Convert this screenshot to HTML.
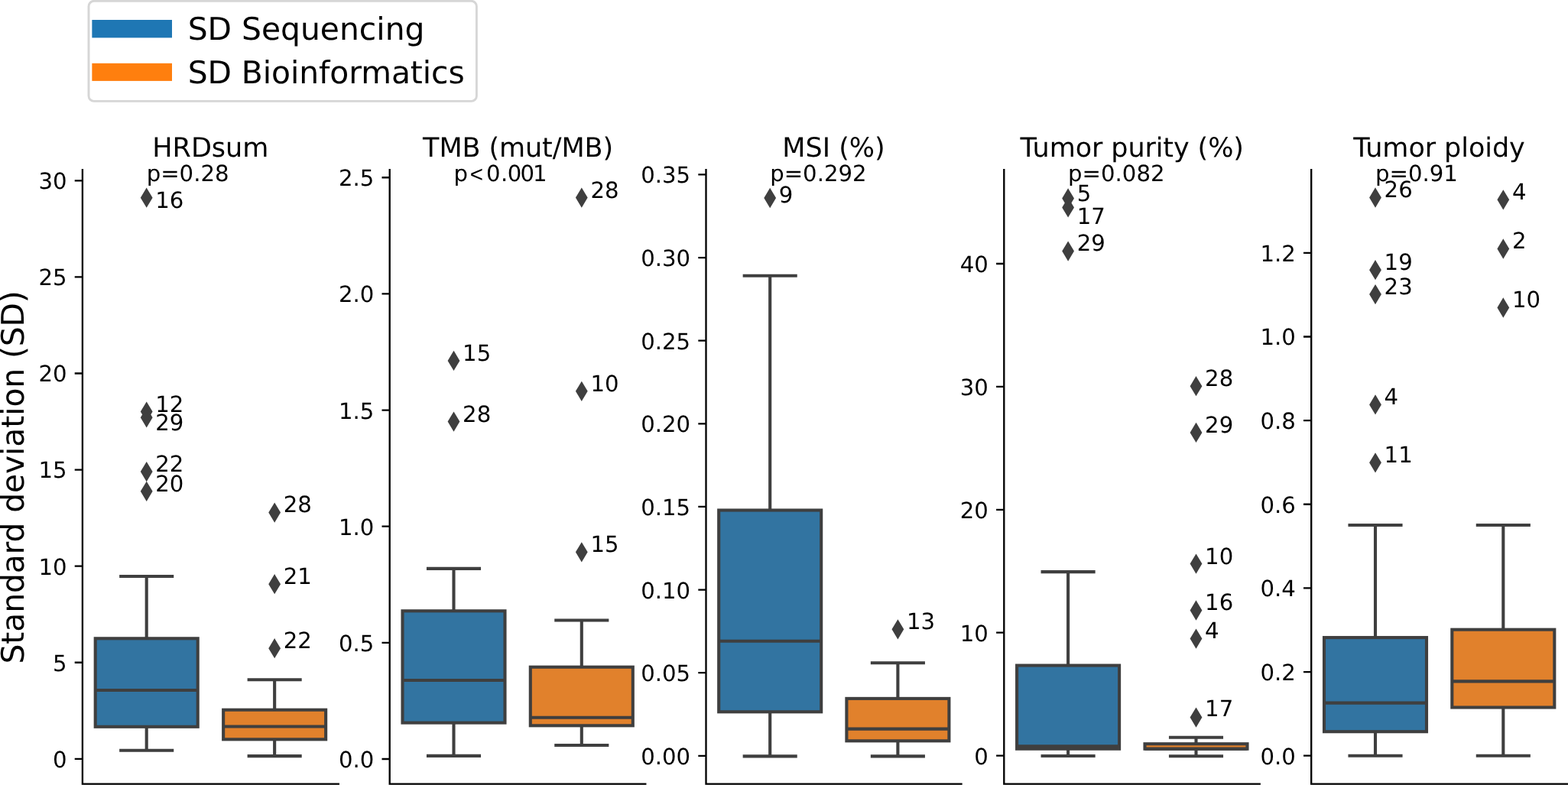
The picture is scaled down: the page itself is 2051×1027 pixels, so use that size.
<!DOCTYPE html>
<html><head><meta charset="utf-8"><title>Standard deviation boxplots</title>
<style>
html,body{margin:0;padding:0;background:#fff;}
body{width:2051px;height:1027px;overflow:hidden;}
svg{display:block;}
text{font-family:"DejaVu Sans","Liberation Sans",sans-serif;fill:#000;text-rendering:geometricPrecision;}
</style></head>
<body>
<svg width="2051" height="1027" viewBox="0 0 2051 1027">
<rect width="2051" height="1027" fill="#fff"/>
<rect x="116" y="1.3" width="507.4" height="131.1" rx="7" ry="7" fill="#ffffff" stroke="#d6d6d6" stroke-width="2.9"/>
<rect x="120.35" y="26.0" width="104.65" height="23.4" fill="#1f77b4"/>
<rect x="120.35" y="82.8" width="104.65" height="23.1" fill="#ff7f0e"/>
<text x="245.7" y="52" font-size="40.83">SD Sequencing</text>
<text x="245.7" y="109" font-size="40.83" textLength="362" lengthAdjust="spacing">SD Bioinformatics</text>
<text transform="translate(31.2 624.35) rotate(-90)" text-anchor="middle" font-size="40.83" textLength="488.3" lengthAdjust="spacing">Standard deviation (SD)</text>
<path d="M107.9 221.03V1025.7M106.73 1025.7H443.97" stroke="#000" stroke-width="2.33" fill="none"/>
<path d="M97.7 992.8H107.9M97.7 866.71H107.9M97.7 740.63H107.9M97.7 614.54H107.9M97.7 488.46H107.9M97.7 362.38H107.9M97.7 236.29H107.9" stroke="#000" stroke-width="2.33" fill="none"/>
<text x="87.5" y="1004" text-anchor="end" font-size="29.17">0</text>
<text x="87.5" y="878" text-anchor="end" font-size="29.17">5</text>
<text x="87.5" y="752" text-anchor="end" font-size="29.17">10</text>
<text x="87.5" y="625" text-anchor="end" font-size="29.17">15</text>
<text x="87.5" y="499" text-anchor="end" font-size="29.17">20</text>
<text x="87.5" y="373" text-anchor="end" font-size="29.17">25</text>
<text x="87.5" y="247" text-anchor="end" font-size="29.17">30</text>
<text x="275.35" y="205.4" text-anchor="middle" font-size="35.0">HRDsum</text>
<text x="191.7" y="237" font-size="29.17">p=0.28</text>
<path d="M191.7 950.8V981.8M191.7 835.3V754" stroke="#3f3f3f" stroke-width="4.1" fill="none"/>
<path d="M158.2 981.8H225.2M158.2 754H225.2" stroke="#3f3f3f" stroke-width="4.1" stroke-linecap="square" fill="none"/>
<rect x="124.7" y="835.3" width="134" height="115.5" fill="#3274a1" stroke="#3f3f3f" stroke-width="4.1"/>
<path d="M124.7 903H258.7" stroke="#3f3f3f" stroke-width="4.1" fill="none"/>
<path d="M191.7 248.39L197.89 258.7L191.7 269.01L185.51 258.7Z" fill="#3f3f3f" stroke="#3f3f3f" stroke-width="2.92"/>
<text x="203.3" y="272" font-size="29.17">16</text>
<path d="M191.7 528.29L197.89 538.6L191.7 548.91L185.51 538.6Z" fill="#3f3f3f" stroke="#3f3f3f" stroke-width="2.92"/>
<text x="203.3" y="539" font-size="29.17">12</text>
<path d="M191.7 535.99L197.89 546.3L191.7 556.61L185.51 546.3Z" fill="#3f3f3f" stroke="#3f3f3f" stroke-width="2.92"/>
<text x="203.3" y="563" font-size="29.17">29</text>
<path d="M191.7 606.79L197.89 617.1L191.7 627.41L185.51 617.1Z" fill="#3f3f3f" stroke="#3f3f3f" stroke-width="2.92"/>
<text x="203.3" y="617" font-size="29.17">22</text>
<path d="M191.7 632.49L197.89 642.8L191.7 653.11L185.51 642.8Z" fill="#3f3f3f" stroke="#3f3f3f" stroke-width="2.92"/>
<text x="203.3" y="643" font-size="29.17">20</text>
<path d="M359.15 967.3V989.1M359.15 928.7V889.3" stroke="#3f3f3f" stroke-width="4.1" fill="none"/>
<path d="M325.65 989.1H392.65M325.65 889.3H392.65" stroke="#3f3f3f" stroke-width="4.1" stroke-linecap="square" fill="none"/>
<rect x="292.15" y="928.7" width="134" height="38.6" fill="#e1812c" stroke="#3f3f3f" stroke-width="4.1"/>
<path d="M292.15 950.5H426.15" stroke="#3f3f3f" stroke-width="4.1" fill="none"/>
<path d="M359.15 660.29L365.34 670.6L359.15 680.91L352.96 670.6Z" fill="#3f3f3f" stroke="#3f3f3f" stroke-width="2.92"/>
<text x="370.75" y="670" font-size="29.17">28</text>
<path d="M359.15 753.89L365.34 764.2L359.15 774.51L352.96 764.2Z" fill="#3f3f3f" stroke="#3f3f3f" stroke-width="2.92"/>
<text x="370.75" y="764" font-size="29.17">21</text>
<path d="M359.15 837.89L365.34 848.2L359.15 858.51L352.96 848.2Z" fill="#3f3f3f" stroke="#3f3f3f" stroke-width="2.92"/>
<text x="370.75" y="848" font-size="29.17">22</text>
<path d="M509.7 221.03V1025.7M508.53 1025.7H845.46" stroke="#000" stroke-width="2.33" fill="none"/>
<path d="M499.5 993H509.7M499.5 840.85H509.7M499.5 688.7H509.7M499.5 536.55H509.7M499.5 384.4H509.7M499.5 232.25H509.7" stroke="#000" stroke-width="2.33" fill="none"/>
<text x="489.3" y="1004" text-anchor="end" font-size="29.17">0.0</text>
<text x="489.3" y="852" text-anchor="end" font-size="29.17">0.5</text>
<text x="489.3" y="700" text-anchor="end" font-size="29.17">1.0</text>
<text x="489.3" y="548" text-anchor="end" font-size="29.17">1.5</text>
<text x="489.3" y="395" text-anchor="end" font-size="29.17">2.0</text>
<text x="489.3" y="243" text-anchor="end" font-size="29.17">2.5</text>
<text x="677.6" y="205.4" text-anchor="middle" font-size="35.0" textLength="248.99" lengthAdjust="spacing">TMB (mut/MB)</text>
<text x="593.5" y="237" font-size="29.17">p<tspan x="614.8" y="237.8" font-family="Liberation Sans" font-size="29.6">&lt;</tspan><tspan x="636 654.9 663.7 680.5 696.9" y="237">0.001</tspan></text>
<path d="M593.5 945.6V988.9M593.5 799.3V743.9" stroke="#3f3f3f" stroke-width="4.1" fill="none"/>
<path d="M560 988.9H627M560 743.9H627" stroke="#3f3f3f" stroke-width="4.1" stroke-linecap="square" fill="none"/>
<rect x="526.5" y="799.3" width="134" height="146.3" fill="#3274a1" stroke="#3f3f3f" stroke-width="4.1"/>
<path d="M526.5 890H660.5" stroke="#3f3f3f" stroke-width="4.1" fill="none"/>
<path d="M593.5 461.59L599.69 471.9L593.5 482.21L587.31 471.9Z" fill="#3f3f3f" stroke="#3f3f3f" stroke-width="2.92"/>
<text x="605.1" y="472" font-size="29.17">15</text>
<path d="M593.5 541.29L599.69 551.6L593.5 561.91L587.31 551.6Z" fill="#3f3f3f" stroke="#3f3f3f" stroke-width="2.92"/>
<text x="605.1" y="552" font-size="29.17">28</text>
<path d="M760.8 949.3V975M760.8 872.7V811.5" stroke="#3f3f3f" stroke-width="4.1" fill="none"/>
<path d="M727.3 975H794.3M727.3 811.5H794.3" stroke="#3f3f3f" stroke-width="4.1" stroke-linecap="square" fill="none"/>
<rect x="693.8" y="872.7" width="134" height="76.6" fill="#e1812c" stroke="#3f3f3f" stroke-width="4.1"/>
<path d="M693.8 938.8H827.8" stroke="#3f3f3f" stroke-width="4.1" fill="none"/>
<path d="M760.8 248.29L766.99 258.6L760.8 268.91L754.61 258.6Z" fill="#3f3f3f" stroke="#3f3f3f" stroke-width="2.92"/>
<text x="772.4" y="259" font-size="29.17">28</text>
<path d="M760.8 501.49L766.99 511.8L760.8 522.11L754.61 511.8Z" fill="#3f3f3f" stroke="#3f3f3f" stroke-width="2.92"/>
<text x="772.4" y="512" font-size="29.17">10</text>
<path d="M760.8 711.99L766.99 722.3L760.8 732.61L754.61 722.3Z" fill="#3f3f3f" stroke="#3f3f3f" stroke-width="2.92"/>
<text x="772.4" y="722" font-size="29.17">15</text>
<path d="M923.5 221.03V1025.7M922.34 1025.7H1258.66" stroke="#000" stroke-width="2.33" fill="none"/>
<path d="M913.3 988.8H923.5M913.3 880.17H923.5M913.3 771.55H923.5M913.3 662.92H923.5M913.3 554.3H923.5M913.3 445.67H923.5M913.3 337.05H923.5M913.3 228.42H923.5" stroke="#000" stroke-width="2.33" fill="none"/>
<text x="903.1" y="1000" text-anchor="end" font-size="29.17">0.00</text>
<text x="903.1" y="891" text-anchor="end" font-size="29.17">0.05</text>
<text x="903.1" y="783" text-anchor="end" font-size="29.17">0.10</text>
<text x="903.1" y="674" text-anchor="end" font-size="29.17">0.15</text>
<text x="903.1" y="565" text-anchor="end" font-size="29.17">0.20</text>
<text x="903.1" y="457" text-anchor="end" font-size="29.17">0.25</text>
<text x="903.1" y="348" text-anchor="end" font-size="29.17">0.30</text>
<text x="903.1" y="239" text-anchor="end" font-size="29.17">0.35</text>
<text x="1090.5" y="205.4" text-anchor="middle" font-size="35.0">MSI (%)</text>
<text x="1007.2" y="237" font-size="29.17">p=0.292</text>
<path d="M1007.2 931.3V989.4M1007.2 667.5V360.7" stroke="#3f3f3f" stroke-width="4.1" fill="none"/>
<path d="M973.7 989.4H1040.7M973.7 360.7H1040.7" stroke="#3f3f3f" stroke-width="4.1" stroke-linecap="square" fill="none"/>
<rect x="940.2" y="667.5" width="134" height="263.8" fill="#3274a1" stroke="#3f3f3f" stroke-width="4.1"/>
<path d="M940.2 838.7H1074.2" stroke="#3f3f3f" stroke-width="4.1" fill="none"/>
<path d="M1007.2 248.69L1013.39 259L1007.2 269.31L1001.01 259Z" fill="#3f3f3f" stroke="#3f3f3f" stroke-width="2.92"/>
<text x="1018.8" y="265" font-size="29.17">9</text>
<path d="M1174.4 969.3V989.4M1174.4 913.9V867.3" stroke="#3f3f3f" stroke-width="4.1" fill="none"/>
<path d="M1140.9 989.4H1207.9M1140.9 867.3H1207.9" stroke="#3f3f3f" stroke-width="4.1" stroke-linecap="square" fill="none"/>
<rect x="1107.4" y="913.9" width="134" height="55.4" fill="#e1812c" stroke="#3f3f3f" stroke-width="4.1"/>
<path d="M1107.4 953.6H1241.4" stroke="#3f3f3f" stroke-width="4.1" fill="none"/>
<path d="M1174.4 812.99L1180.59 823.3L1174.4 833.61L1168.21 823.3Z" fill="#3f3f3f" stroke="#3f3f3f" stroke-width="2.92"/>
<text x="1186" y="823" font-size="29.17">13</text>
<path d="M1313.3 221.03V1025.7M1312.13 1025.7H1648.87" stroke="#000" stroke-width="2.33" fill="none"/>
<path d="M1303.1 988.6H1313.3M1303.1 827.7H1313.3M1303.1 666.8H1313.3M1303.1 505.9H1313.3M1303.1 345H1313.3" stroke="#000" stroke-width="2.33" fill="none"/>
<text x="1292.9" y="1000" text-anchor="end" font-size="29.17">0</text>
<text x="1292.9" y="839" text-anchor="end" font-size="29.17">10</text>
<text x="1292.9" y="678" text-anchor="end" font-size="29.17">20</text>
<text x="1292.9" y="517" text-anchor="end" font-size="29.17">30</text>
<text x="1292.9" y="356" text-anchor="end" font-size="29.17">40</text>
<text x="1480.8" y="205.4" text-anchor="middle" font-size="35.0" textLength="292.36" lengthAdjust="spacing">Tumor purity (%)</text>
<text x="1397.1" y="237" font-size="29.17">p=0.082</text>
<path d="M1397.1 979.7V989M1397.1 870.6V748.1" stroke="#3f3f3f" stroke-width="4.1" fill="none"/>
<path d="M1363.6 989H1430.6M1363.6 748.1H1430.6" stroke="#3f3f3f" stroke-width="4.1" stroke-linecap="square" fill="none"/>
<rect x="1330.1" y="870.6" width="134" height="109.1" fill="#3274a1" stroke="#3f3f3f" stroke-width="4.1"/>
<path d="M1330.1 976.2H1464.1" stroke="#3f3f3f" stroke-width="4.1" fill="none"/>
<path d="M1397.1 249.19L1403.29 259.5L1397.1 269.81L1390.91 259.5Z" fill="#3f3f3f" stroke="#3f3f3f" stroke-width="2.92"/>
<text x="1408.7" y="263" font-size="29.17">5</text>
<path d="M1397.1 261.09L1403.29 271.4L1397.1 281.71L1390.91 271.4Z" fill="#3f3f3f" stroke="#3f3f3f" stroke-width="2.92"/>
<text x="1408.7" y="293" font-size="29.17">17</text>
<path d="M1397.1 318.29L1403.29 328.6L1397.1 338.91L1390.91 328.6Z" fill="#3f3f3f" stroke="#3f3f3f" stroke-width="2.92"/>
<text x="1408.7" y="328" font-size="29.17">29</text>
<path d="M1564.5 979.7V989.2M1564.5 973.2V964.7" stroke="#3f3f3f" stroke-width="4.1" fill="none"/>
<path d="M1531 989.2H1598M1531 964.7H1598" stroke="#3f3f3f" stroke-width="4.1" stroke-linecap="square" fill="none"/>
<rect x="1497.5" y="973.2" width="134" height="6.5" fill="#e1812c" stroke="#3f3f3f" stroke-width="4.1"/>
<path d="M1497.5 979.7H1631.5" stroke="#3f3f3f" stroke-width="4.1" fill="none"/>
<path d="M1564.5 494.89L1570.69 505.2L1564.5 515.51L1558.31 505.2Z" fill="#3f3f3f" stroke="#3f3f3f" stroke-width="2.92"/>
<text x="1576.1" y="505" font-size="29.17">28</text>
<path d="M1564.5 555.59L1570.69 565.9L1564.5 576.21L1558.31 565.9Z" fill="#3f3f3f" stroke="#3f3f3f" stroke-width="2.92"/>
<text x="1576.1" y="566" font-size="29.17">29</text>
<path d="M1564.5 727.29L1570.69 737.6L1564.5 747.91L1558.31 737.6Z" fill="#3f3f3f" stroke="#3f3f3f" stroke-width="2.92"/>
<text x="1576.1" y="738" font-size="29.17">10</text>
<path d="M1564.5 788.19L1570.69 798.5L1564.5 808.81L1558.31 798.5Z" fill="#3f3f3f" stroke="#3f3f3f" stroke-width="2.92"/>
<text x="1576.1" y="798" font-size="29.17">16</text>
<path d="M1564.5 825.29L1570.69 835.6L1564.5 845.91L1558.31 835.6Z" fill="#3f3f3f" stroke="#3f3f3f" stroke-width="2.92"/>
<text x="1576.1" y="835" font-size="29.17">4</text>
<path d="M1564.5 928.29L1570.69 938.6L1564.5 948.91L1558.31 938.6Z" fill="#3f3f3f" stroke="#3f3f3f" stroke-width="2.92"/>
<text x="1576.1" y="937" font-size="29.17">17</text>
<path d="M1715.2 221.03V1025.7M1714.04 1025.7H2050.97" stroke="#000" stroke-width="2.33" fill="none"/>
<path d="M1705 988.7H1715.2M1705 879.06H1715.2M1705 769.42H1715.2M1705 659.78H1715.2M1705 550.14H1715.2M1705 440.5H1715.2M1705 330.86H1715.2" stroke="#000" stroke-width="2.33" fill="none"/>
<text x="1694.8" y="1000" text-anchor="end" font-size="29.17">0.0</text>
<text x="1694.8" y="890" text-anchor="end" font-size="29.17">0.2</text>
<text x="1694.8" y="780" text-anchor="end" font-size="29.17">0.4</text>
<text x="1694.8" y="671" text-anchor="end" font-size="29.17">0.6</text>
<text x="1694.8" y="561" text-anchor="end" font-size="29.17">0.8</text>
<text x="1694.8" y="451" text-anchor="end" font-size="29.17">1.0</text>
<text x="1694.8" y="342" text-anchor="end" font-size="29.17">1.2</text>
<text x="1882.5" y="205.4" text-anchor="middle" font-size="35.0" textLength="224.51" lengthAdjust="spacing">Tumor ploidy</text>
<text x="1799" y="237" font-size="29.17">p=0.91</text>
<path d="M1799 957.2V988.8M1799 834.1V687" stroke="#3f3f3f" stroke-width="4.1" fill="none"/>
<path d="M1765.5 988.8H1832.5M1765.5 687H1832.5" stroke="#3f3f3f" stroke-width="4.1" stroke-linecap="square" fill="none"/>
<rect x="1732" y="834.1" width="134" height="123.1" fill="#3274a1" stroke="#3f3f3f" stroke-width="4.1"/>
<path d="M1732 919.6H1866" stroke="#3f3f3f" stroke-width="4.1" fill="none"/>
<path d="M1799 248.19L1805.19 258.5L1799 268.81L1792.81 258.5Z" fill="#3f3f3f" stroke="#3f3f3f" stroke-width="2.92"/>
<text x="1810.6" y="258" font-size="29.17">26</text>
<path d="M1799 342.89L1805.19 353.2L1799 363.51L1792.81 353.2Z" fill="#3f3f3f" stroke="#3f3f3f" stroke-width="2.92"/>
<text x="1810.6" y="353" font-size="29.17">19</text>
<path d="M1799 374.79L1805.19 385.1L1799 395.41L1792.81 385.1Z" fill="#3f3f3f" stroke="#3f3f3f" stroke-width="2.92"/>
<text x="1810.6" y="385" font-size="29.17">23</text>
<path d="M1799 519.09L1805.19 529.4L1799 539.71L1792.81 529.4Z" fill="#3f3f3f" stroke="#3f3f3f" stroke-width="2.92"/>
<text x="1810.6" y="529" font-size="29.17">4</text>
<path d="M1799 594.99L1805.19 605.3L1799 615.61L1792.81 605.3Z" fill="#3f3f3f" stroke="#3f3f3f" stroke-width="2.92"/>
<text x="1810.6" y="605" font-size="29.17">11</text>
<path d="M1966.3 925.5V988.8M1966.3 823.7V687" stroke="#3f3f3f" stroke-width="4.1" fill="none"/>
<path d="M1932.8 988.8H1999.8M1932.8 687H1999.8" stroke="#3f3f3f" stroke-width="4.1" stroke-linecap="square" fill="none"/>
<rect x="1899.3" y="823.7" width="134" height="101.8" fill="#e1812c" stroke="#3f3f3f" stroke-width="4.1"/>
<path d="M1899.3 891.4H2033.3" stroke="#3f3f3f" stroke-width="4.1" fill="none"/>
<path d="M1966.3 250.99L1972.49 261.3L1966.3 271.61L1960.11 261.3Z" fill="#3f3f3f" stroke="#3f3f3f" stroke-width="2.92"/>
<text x="1977.9" y="261" font-size="29.17">4</text>
<path d="M1966.3 315.19L1972.49 325.5L1966.3 335.81L1960.11 325.5Z" fill="#3f3f3f" stroke="#3f3f3f" stroke-width="2.92"/>
<text x="1977.9" y="325" font-size="29.17">2</text>
<path d="M1966.3 392.19L1972.49 402.5L1966.3 412.81L1960.11 402.5Z" fill="#3f3f3f" stroke="#3f3f3f" stroke-width="2.92"/>
<text x="1977.9" y="402" font-size="29.17">10</text>
</svg>
</body></html>
